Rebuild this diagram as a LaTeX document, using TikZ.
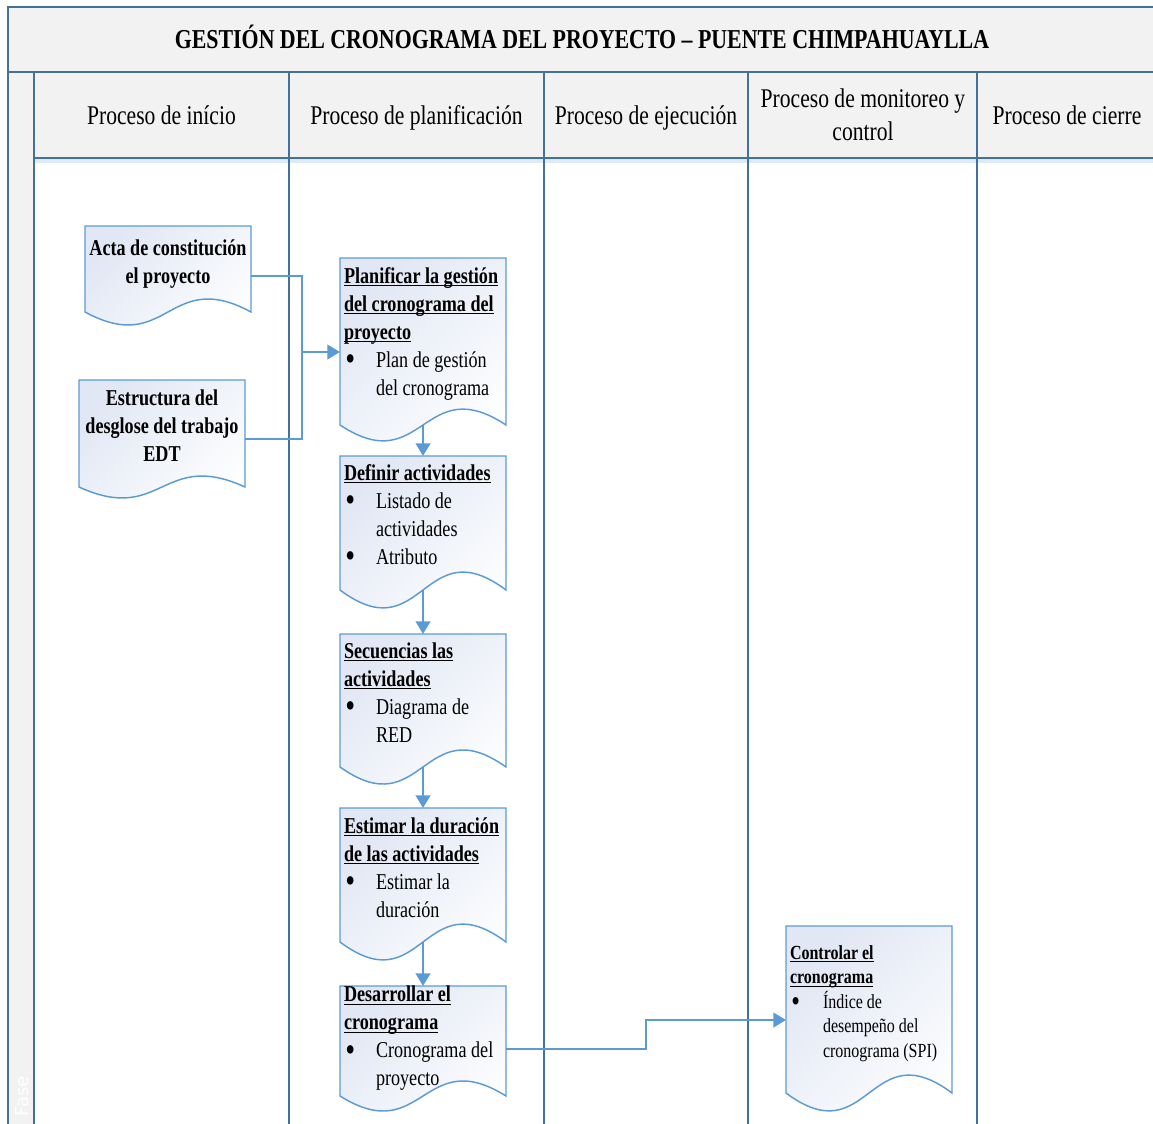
\documentclass[tikz,border=0pt]{standalone}
\usepackage{fontspec}
\setmainfont{Liberation Serif}[FakeStretch=0.8]
\newfontfamily\fasefont{DejaVu Sans}
\usetikzlibrary{calc,arrows.meta}
\definecolor{laneblue}{HTML}{41719C}
\definecolor{headgray}{HTML}{F2F2F2}
\definecolor{connblue}{HTML}{5B9BD5}
\definecolor{docfillc}{HTML}{E1E7F4}
\pgfdeclarelayer{lanes}
\pgfdeclarelayer{shapes}
\pgfsetlayers{lanes,shapes,main}
\newsavebox\ulbox
\newcommand\uln[1]{\sbox\ulbox{#1}\rlap{\rule[-2.4pt]{\wd\ulbox}{0.9pt}}\usebox\ulbox}
\newcommand\bigbul{\raisebox{-2.8pt}{\scalebox{1.55}{\textbullet}}}
\newcommand\bul{\makebox[24pt][l]{\hspace{1pt}\bigbul}}
\newcommand\dtext[4]{\parbox[t][#1][t]{#2}{\rule{0pt}{#3}#4}}
\newcommand\bodyf{\fontsize{17}{21}\selectfont}
\newcommand\smallf{\fontsize{15}{18.4}\selectfont}
\newcommand\docwave[2]{%
  \begin{pgfonlayer}{shapes}
  \path[docshape] (#1.south west) -- (#1.north west) -- (#1.north east) -- (#1.south east)
     .. controls ($(#1.south)+(0,-#2)$) and ($(#1.south)+(0,#2)$) .. (#1.south west) -- cycle;
  \end{pgfonlayer}}
\tikzset{
  laneline/.style={draw=laneblue, line width=1.2pt},
  docshape/.style={draw=connblue, line width=1.1pt, top color=docfillc, bottom color=white, shading angle=45},
  docnode/.style={anchor=north west, inner xsep=3pt, inner ysep=0pt, outer sep=0pt, font=\bodyf},
  hdr/.style={font=\fontsize{20.25}{24.75}\selectfont, align=center, inner sep=0pt},
  titlestyle/.style={font=\bfseries\fontsize{20.5}{24}\selectfont, inner sep=0pt},
  conn/.style={draw=connblue, line width=1.5pt},
  arr/.style={-{Triangle[length=9.5pt,width=11pt]}},
}
\begin{document}
\begin{tikzpicture}[x=0.75pt,y=-0.75pt]
\useasboundingbox (0,0) rectangle (1153,1124);
\begin{pgfonlayer}{lanes}
  \fill[headgray] (8,7) rectangle (1153,72);
  \fill[headgray] (34,72) rectangle (1153,158);
  \fill[headgray] (8,72) rectangle (34,1124);
  \draw[connblue!20, line width=3pt] (34,160.5) -- (1153,160.5);
  \draw[laneline] (1153,7) -- (8,7) -- (8,1124);
  \draw[laneline] (8,72) -- (1153,72);
  \draw[laneline] (34,72) -- (34,1124);
  \draw[laneline] (34,158) -- (1153,158);
  \foreach \xx in {289,544,748,977} \draw[laneline] (\xx,72) -- (\xx,1124);
\end{pgfonlayer}

\node[titlestyle, anchor=base] (title) at (582,49) {GESTIÓN DEL CRONOGRAMA DEL PROYECTO – PUENTE CHIMPAHUAYLLA};
\node[hdr, anchor=base] (h1) at (161.5,124) {Proceso de início};
\node[hdr, anchor=base] (h2) at (416.5,124) {Proceso de planificación};
\node[hdr, anchor=base] (h3) at (646,124) {Proceso de ejecución};
\node[hdr] (h4) at (863,115) {Proceso de monitoreo y\\control};
\node[hdr, anchor=base] (h5) at (1067,124) {Proceso de cierre};

\begin{scope}
  \clip (0,0) rectangle (1153,1124);
  \node[rotate=90, anchor=base east, inner sep=0pt, text=white, font=\fasefont\fontsize{13.5}{16}\selectfont] (fase) at (28,1076) {Fase};
\end{scope}

\node[docnode] (acta) at (85,226) {\dtext{64.5pt}{118.5pt}{21.75pt}{\centering\bfseries Acta de constitución\\el proyecto}};
\docwave{acta}{45}
\node[docnode] (estr) at (79,380) {\dtext{80.25pt}{118.5pt}{18.75pt}{\centering\bfseries Estructura del\\desglose del trabajo\\EDT}};
\docwave{estr}{38}

\node[docnode] (plan) at (340,258) {\dtext{125.25pt}{118.5pt}{18.75pt}{\bfseries\uln{Planificar la gestión}\\\uln{del cronograma del}\\\uln{proyecto}\\\mdseries\bul Plan de gestión\\\hspace*{24pt}del cronograma}};
\docwave{plan}{55}
\node[docnode] (def) at (340,456) {\dtext{100.5pt}{118.5pt}{18pt}{\bfseries\uln{Definir actividades}\\\mdseries\bul Listado de\\\hspace*{24pt}actividades\\\bul Atributo}};
\docwave{def}{62}
\node[docnode] (sec) at (340,634) {\dtext{99.75pt}{118.5pt}{18pt}{\bfseries\uln{Secuencias las}\\\uln{actividades}\\\mdseries\bul Diagrama de\\\hspace*{24pt}RED}};
\docwave{sec}{59}
\node[docnode] (est) at (340,808) {\dtext{100.5pt}{118.5pt}{18.75pt}{\bfseries\uln{Estimar la duración}\\\uln{de las actividades}\\\mdseries\bul Estimar la\\\hspace*{24pt}duración}};
\docwave{est}{62}
\node[docnode] (des) at (340,986) {\dtext{82.5pt}{118.5pt}{10.5pt}{\bfseries\uln{Desarrollar el}\\\uln{cronograma}\\\mdseries\bul Cronograma del\\\hspace*{24pt}proyecto}};
\docwave{des}{52}
\node[docnode, font=\smallf] (ctrl) at (786,926) {\dtext{125.25pt}{118.5pt}{24.75pt}{\bfseries\uln{Controlar el}\\\uln{cronograma}\\\mdseries\makebox[24.75pt][l]{\hspace{1pt}\bigbul}Índice de\\\hspace*{24.75pt}desempeño del\\\hspace*{24.75pt}cronograma (SPI)}};
\docwave{ctrl}{62}

\coordinate (j1) at (302,352);
\draw[conn] ($(acta.north east)+(0,50)$) -| (j1);
\draw[conn] ($(estr.north east)+(0,59)$) -| (j1);
\draw[conn,arr] (j1) -- (j1 -| plan.west);
\draw[conn,arr] (plan.south) -- (def.north);
\draw[conn,arr] (def.south) -- (sec.north);
\draw[conn,arr] (sec.south) -- (est.north);
\draw[conn,arr] (est.south) -- (des.north);
\coordinate (j2) at (646,1049);
\draw[conn,arr] ($(des.north east)+(0,63)$) -- (j2) |- ($(ctrl.north west)+(0,94)$);
\end{tikzpicture}
\end{document}
